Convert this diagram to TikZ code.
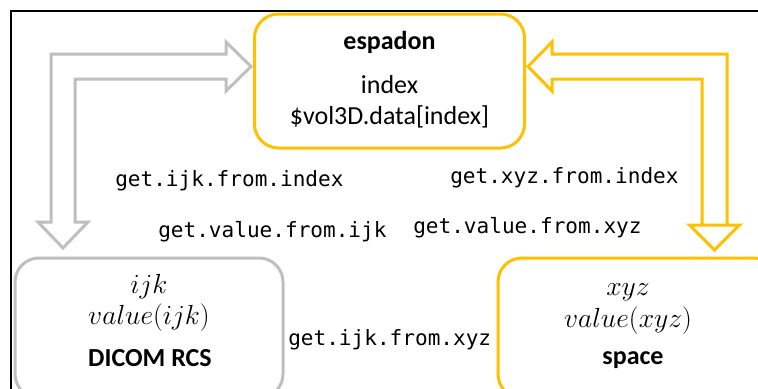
\documentclass[tikz,border=0pt]{standalone}
\usepackage{fontspec}
\setmainfont{Carlito}
\newfontfamily\codefont{DejaVu Sans Mono}
\definecolor{accent}{HTML}{FFC000}
\definecolor{muted}{HTML}{BFBFBF}
\tikzset{
  box/.style={draw, line width=2.25pt, rounded corners=18pt, inner sep=0pt, fill=none},
  txt/.style={anchor=base, inner sep=0pt, font=\fontsize{19.5}{22}\selectfont},
  mtxt/.style={anchor=base, inner sep=0pt, font=\fontsize{20.74}{24}\selectfont},
  code/.style={anchor=base west, inner sep=0pt, font=\codefont\fontsize{15.8}{18}\selectfont},
  blockarrow/.style={line width=2.25pt, line join=miter}
}
\begin{document}
\begin{tikzpicture}[x=0.75pt,y=-0.75pt]
\useasboundingbox (0,0) rectangle (758,389);
\clip (0,0) rectangle (758,389);
% frame
\draw[line width=1.5pt] (11,11) rectangle (780,410);
% boxes
\node[box, draw=accent, minimum width=202.5pt, minimum height=100.5pt] (esp) at (389.5,81) {};
\node[box, draw=muted, minimum width=201pt, minimum height=105pt] (dicom) at (149,328) {};
\node[box, draw=accent, minimum width=210pt, minimum height=105pt] (space) at (638,328) {};
% espadon texts
\node[txt] (t1) at (389.5,50) {\bfseries espadon};
\node[txt] (t2) at (389.5,93) {index};
\node[txt] (t3) at (389.5,124) {\$vol3D.data[index]};
% dicom texts
\node[mtxt] (d1) at (149,293) {$ijk$};
\node[mtxt] (d2) at (149,324) {$value(ijk)$};
\node[txt] (d3) at (150,366) {\bfseries DICOM RCS};
% space texts
\node[mtxt] (s1) at (628,295) {$xyz$};
\node[mtxt] (s2) at (628,327) {$value(xyz)$};
\node[txt] (s3) at (633,364) {\bfseries space};
% code labels
\node[code] (l1) at (115,186) {get.ijk.from.index};
\node[code] (l2) at (450,183) {get.xyz.from.index};
\node[code] (l3) at (158,237) {get.value.from.ijk};
\node[code] (l4) at (413,233) {get.value.from.xyz};
\node[code] (l5) at (288,345) {get.ijk.from.xyz};
% gray block arrow
\draw[blockarrow, muted] (51,222) -- (51,54) -- (226,54) -- (226,42) -- (251,66.5) -- (226,91) -- (226,79) -- (75,79) -- (75,222) -- (88,222) -- (63,248) -- (38,222) -- cycle;
% orange block arrow
\draw[blockarrow, accent] (727,225) -- (727,54) -- (552,54) -- (552,42) -- (528,66.5) -- (552,91) -- (552,79) -- (702,79) -- (702,225) -- (739.5,225) -- (714.5,250) -- (689.5,225) -- cycle;
\end{tikzpicture}
\end{document}
